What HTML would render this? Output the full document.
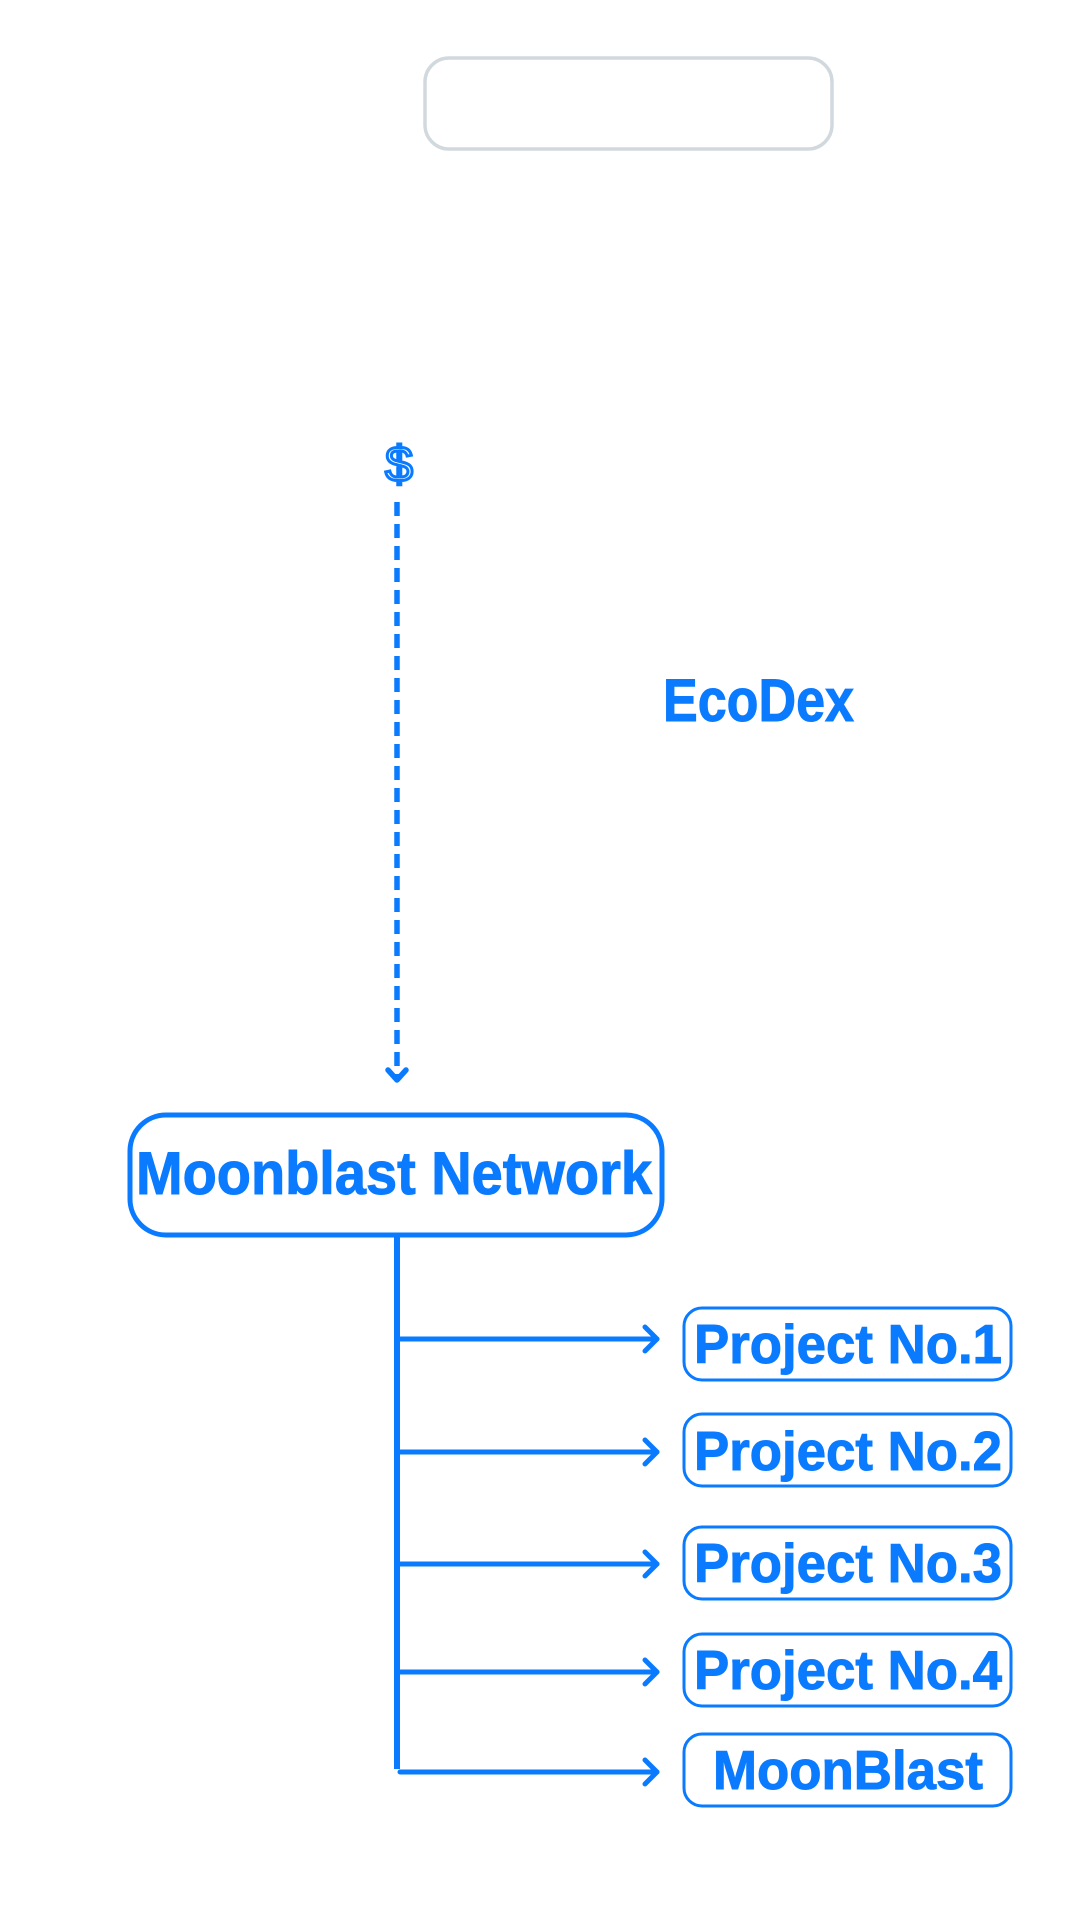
<!DOCTYPE html>
<html><head><meta charset="utf-8"><style>
html,body{margin:0;padding:0;background:#fff;}
svg{display:block;}
text{font-family:"Liberation Sans",sans-serif;font-weight:bold;fill:#0a7bff;}
</style></head><body>
<svg width="1080" height="1920" viewBox="0 0 1080 1920" xmlns="http://www.w3.org/2000/svg">
<g transform="translate(2,4)">
<rect x="423" y="54" width="407" height="91" rx="24" fill="none" stroke="#d2d9de" stroke-width="3.5"/>
<text x="397" y="477" font-size="50" text-anchor="middle" style="font-weight:normal;fill:#fff;stroke:#0a7bff;stroke-width:3">$</text>
<line x1="395" y1="498" x2="395" y2="1072" stroke="#0a7bff" stroke-width="5.5" stroke-dasharray="14,8"/>
<polyline points="386,1066 395,1076 404,1066" fill="none" stroke="#0a7bff" stroke-width="5.5" stroke-linecap="round" stroke-linejoin="round"/>
<text x="661" y="717" font-size="60" textLength="191" lengthAdjust="spacingAndGlyphs" style="stroke:#0a7bff;stroke-width:1">EcoDex</text>
<rect x="128" y="1111" width="532" height="120" rx="36" fill="#fff" stroke="#0a7bff" stroke-width="5"/>
<text x="134" y="1190" font-size="60" textLength="516" lengthAdjust="spacingAndGlyphs" style="stroke:#0a7bff;stroke-width:1">Moonblast Network</text>
<line x1="395" y1="1232" x2="395" y2="1765" stroke="#0a7bff" stroke-width="6"/>
<g stroke="#0a7bff" stroke-width="5" fill="none" stroke-linecap="round" stroke-linejoin="round">
<line x1="398" y1="1335" x2="655" y2="1335"/><polyline points="643,1323 655,1335 643,1347"/>
<line x1="398" y1="1448" x2="655" y2="1448"/><polyline points="643,1436 655,1448 643,1460"/>
<line x1="398" y1="1560" x2="655" y2="1560"/><polyline points="643,1548 655,1560 643,1572"/>
<line x1="398" y1="1668" x2="655" y2="1668"/><polyline points="643,1656 655,1668 643,1680"/>
<line x1="398" y1="1768" x2="655" y2="1768"/><polyline points="643,1756 655,1768 643,1780"/>
</g>
<g fill="#fff" stroke="#0a7bff" stroke-width="3">
<rect x="682" y="1304" width="327" height="72" rx="18"/>
<rect x="682" y="1410" width="327" height="72" rx="18"/>
<rect x="682" y="1523" width="327" height="72" rx="18"/>
<rect x="682" y="1630" width="327" height="72" rx="18"/>
<rect x="682" y="1730" width="327" height="72" rx="18"/>
</g>
<g style="stroke:#0a7bff;stroke-width:1">
<text x="692" y="1359" font-size="55" textLength="308" lengthAdjust="spacingAndGlyphs">Project No.1</text>
<text x="692" y="1466" font-size="55" textLength="308" lengthAdjust="spacingAndGlyphs">Project No.2</text>
<text x="692" y="1578" font-size="55" textLength="308" lengthAdjust="spacingAndGlyphs">Project No.3</text>
<text x="692" y="1685" font-size="55" textLength="308" lengthAdjust="spacingAndGlyphs">Project No.4</text>
<text x="711" y="1785" font-size="55" textLength="270" lengthAdjust="spacingAndGlyphs">MoonBlast</text>
</g>
</g>
</svg>
</body></html>
